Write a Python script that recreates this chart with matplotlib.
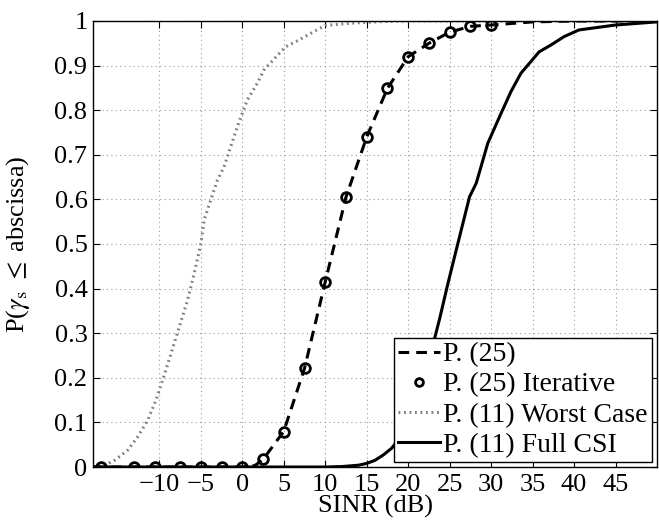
import matplotlib
matplotlib.use('Agg')
import matplotlib.pyplot as plt

# P. (25) dashed curve
p25_x = [-18, -17, -13, -10.5, -7.5, -5, -2.5, 0, 1.5, 2.5, 5, 7.5, 10, 12.5,
         15, 17.5, 20, 22.5, 25, 27.5, 30, 35, 40, 50]
p25_y = [0, 0, 0, 0, 0, 0, 0, 0, 0.003, 0.017, 0.08, 0.221, 0.415, 0.605,
         0.74, 0.849, 0.92, 0.95, 0.975, 0.988, 0.991, 0.998, 1.0, 1.0]

# P. (25) Iterative markers
iter_x = [-17, -13, -10.5, -7.5, -5, -2.5, 0, 2.5, 5, 7.5, 10, 12.5,
          15, 17.5, 20, 22.5, 25, 27.5, 30]
iter_y = [0, 0, 0, 0, 0, 0, 0, 0.017, 0.079, 0.221, 0.415, 0.605,
          0.74, 0.849, 0.92, 0.95, 0.975, 0.988, 0.991]

# P. (11) Worst Case
wc_x = [-18, -16.6, -15.4, -13.8, -12.6, -11.4, -10.4, -9.6, -8.6, -7.6, -6.6,
        -5.8, -5.0, -4.6, -3.8, -3.0, -2.2, -1.4, -0.6, 0, 0.6, 1.8, 2.6, 3.6,
        5.2, 6.8, 8.6, 10, 13, 17, 20, 50]
wc_y = [0, 0.004, 0.015, 0.038, 0.068, 0.105, 0.15, 0.195, 0.254, 0.314, 0.374,
        0.434, 0.5, 0.554, 0.599, 0.643, 0.673, 0.718, 0.763, 0.793, 0.823, 0.86,
        0.89, 0.91, 0.942, 0.957, 0.976, 0.99, 0.995, 0.999, 1.0, 1.0]

# P. (11) Full CSI
csi_x = [-18, 10, 12, 14, 15, 16, 17, 18, 19, 20, 21, 22, 22.8, 23.8, 24.8,
         25.8, 27.4, 28.2, 29.6, 31.2, 32.4, 33.6, 35.8, 37.2, 38.8, 40.6, 45, 50]
csi_y = [0, 0, 0.001, 0.004, 0.008, 0.015, 0.027, 0.042, 0.065, 0.095, 0.14,
         0.2, 0.26, 0.333, 0.412, 0.487, 0.606, 0.636, 0.726, 0.793, 0.842,
         0.883, 0.931, 0.946, 0.965, 0.98, 0.991, 0.998]

x_ticks = [-10, -5, 0, 5, 10, 15, 20, 25, 30, 35, 40, 45]
y_ticks = [0, 0.1, 0.2, 0.3, 0.4, 0.5, 0.6, 0.7, 0.8, 0.9, 1]
y_tick_labels = ['0', '0.1', '0.2', '0.3', '0.4', '0.5', '0.6', '0.7', '0.8', '0.9', '1']

plt.rcParams['font.family'] = ['Liberation Serif', 'DejaVu Serif']
plt.rcParams['mathtext.fontset'] = 'stix'

fig = plt.figure(figsize=(6.59, 5.25), dpi=100)
ax = fig.add_axes([93 / 659, 58 / 525, 564 / 659, 446 / 525])

ax.plot(p25_x, p25_y, color='black', linestyle=(0, (3.5, 2.3)), linewidth=2.2,
        label='P. (25)', zorder=3)
ax.plot(iter_x, iter_y, linestyle='none', marker='o', markersize=7,
        markerfacecolor='none', markeredgecolor='black', markeredgewidth=2,
        label='P. (25) Iterative', zorder=4)
ax.plot(wc_x, wc_y, color='#808080', linestyle=(0, (0.6, 1.2)), linewidth=2.2,
        label='P. (11) Worst Case', zorder=2)
ax.plot(csi_x, csi_y, color='black', linestyle='-', linewidth=2.2,
        label='P. (11) Full CSI', zorder=3)

ax.set_xlim(-18, 50)
ax.set_ylim(0, 1)
ax.set_xticks(x_ticks)
ax.set_yticks(y_ticks)
ax.set_yticklabels(y_tick_labels)
ax.tick_params(direction='in', top=True, right=True, length=5, width=0.8,
               labelsize=19)
ax.tick_params(axis='x', pad=5)
ax.tick_params(axis='y', pad=4)
ax.grid(True, color='#999999', linestyle=(0, (1, 3)), linewidth=0.8)
for s in ax.spines.values():
    s.set_linewidth(1.0)

ax.set_xlabel('SINR (dB)', fontsize=19, labelpad=-1)
ax.set_ylabel(r'P($\gamma_{\rm s}$ $\leq$ abscissa)', fontsize=19)
ax.yaxis.set_label_coords(-0.108, 0.5)

leg = ax.legend(loc='lower right', bbox_to_anchor=(0.991, 0.011), fontsize=20,
                frameon=True, fancybox=False, framealpha=1, edgecolor='black',
                borderaxespad=0, handlelength=1.5, handletextpad=0.12,
                labelspacing=0.17, borderpad=0.15, markerscale=0.8)
leg.get_frame().set_linewidth(1.0)

fig.savefig('out.png', dpi=100)
